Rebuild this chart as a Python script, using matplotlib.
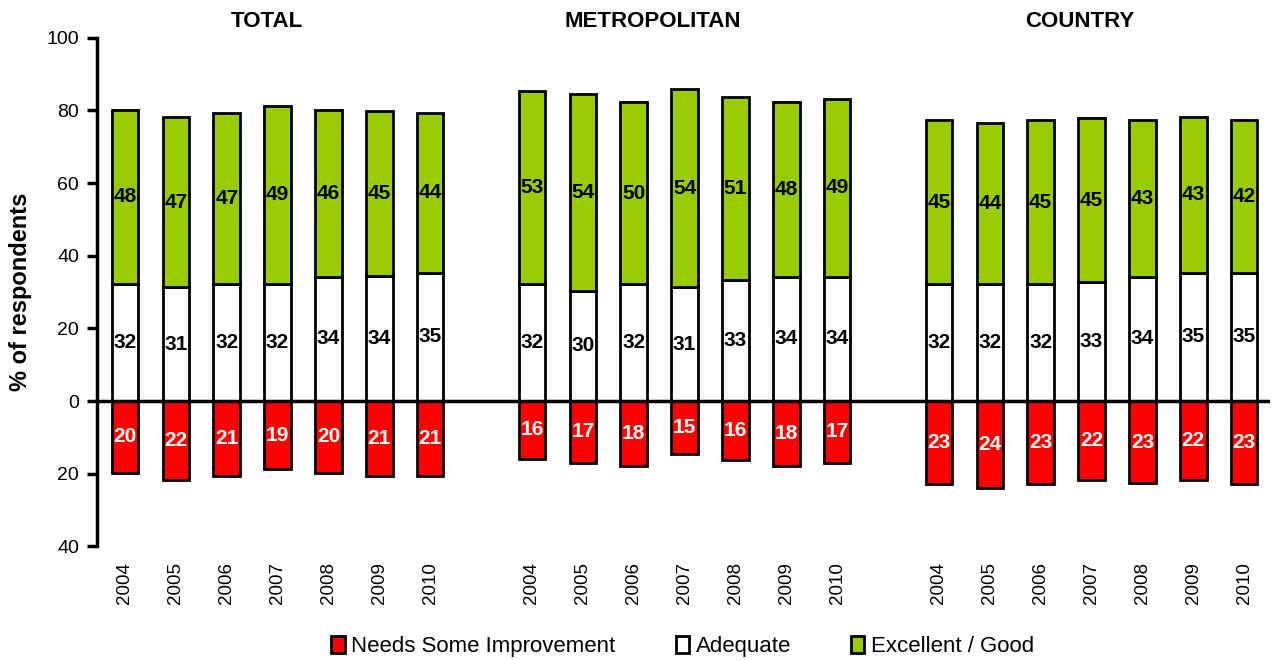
import matplotlib
matplotlib.use("Agg")
import matplotlib.pyplot as plt
from matplotlib.patches import Patch

plt.rcParams["font.family"] = ["Liberation Sans", "DejaVu Sans"]

years = ["2004", "2005", "2006", "2007", "2008", "2009", "2010"]
groups = ["TOTAL", "METROPOLITAN", "COUNTRY"]

# % of respondents per rating, one list per group
needs_total = [19.7, 21.8, 20.7, 18.8, 19.7, 20.7, 20.7]
needs_metro = [15.9, 16.9, 17.8, 14.6, 16.3, 17.8, 16.9]
needs_country = [22.9, 23.8, 22.9, 21.8, 22.6, 21.8, 22.9]

adequate_total = [32.3, 31.3, 32.2, 32.2, 34.2, 34.4, 35.3]
adequate_metro = [32.1, 30.4, 32.1, 31.4, 33.2, 34.2, 34.2]
adequate_country = [32.1, 32.1, 32.1, 32.8, 34.2, 35.3, 35.3]

excellent_total = [47.9, 46.9, 47.1, 49.1, 46.0, 45.4, 44.0]
excellent_metro = [53.3, 54.0, 50.3, 54.4, 50.6, 48.2, 49.0]
excellent_country = [45.2, 44.3, 45.2, 45.0, 43.1, 42.9, 42.0]

needs = [needs_total, needs_metro, needs_country]
adequate = [adequate_total, adequate_metro, adequate_country]
excellent = [excellent_total, excellent_metro, excellent_country]

RED = "#FF0000"
GREEN = "#99CC00"
bar_w = 0.52

fig = plt.figure(figsize=(12.76, 6.6), dpi=100)
ax = fig.add_axes([0.076, 0.172, 0.919, 0.771])

xticks, xlabels = [], []
for g in range(3):
    xs = [g * 8 + i for i in range(len(years))]
    neg = [-v for v in needs[g]]
    ax.bar(xs, neg, width=bar_w, color=RED, edgecolor="black", linewidth=2, zorder=2)
    ax.bar(xs, adequate[g], width=bar_w, color="white", edgecolor="black", linewidth=2, zorder=2)
    ax.bar(xs, excellent[g], width=bar_w, bottom=adequate[g], color=GREEN,
           edgecolor="black", linewidth=2, zorder=2)
    for x, n, a, e in zip(xs, needs[g], adequate[g], excellent[g]):
        ax.text(x, -n / 2, f"{round(n)}", ha="center", va="center", color="white",
                fontsize=15, fontweight="bold", zorder=3)
        ax.text(x, a / 2, f"{round(a)}", ha="center", va="center", color="black",
                fontsize=15, fontweight="bold", zorder=3)
        ax.text(x, a + e / 2, f"{round(e)}", ha="center", va="center", color="black",
                fontsize=15, fontweight="bold", zorder=3)
    xticks += xs
    xlabels += years

title_x = [2.78, 10.37, 18.76]
for g, name in enumerate(groups):
    ax.text(title_x[g], 104.4, name, ha="center", va="center", fontsize=16,
            fontweight="bold", clip_on=False)

ax.set_xlim(-0.55, 22.5)
ax.set_ylim(-40, 100)
ax.axhline(0, color="black", linewidth=2.5, zorder=4)

ax.set_yticks([-40, -20, 0, 20, 40, 60, 80, 100])
ax.set_yticklabels(["40", "20", "0", "20", "40", "60", "80", "100"], fontsize=14)
ax.tick_params(axis="y", direction="out", length=7, width=2.5, pad=6)
ax.set_xticks(xticks)
ax.set_xticklabels(xlabels, rotation=90, fontsize=13.5)
ax.tick_params(axis="x", length=0, pad=11)

for side in ["top", "right", "bottom"]:
    ax.spines[side].set_visible(False)
ax.spines["left"].set_linewidth(2.5)

ax.set_ylabel("% of respondents", fontsize=17, fontweight="bold", labelpad=10)

handles = [Patch(facecolor=RED, edgecolor="black", linewidth=2),
           Patch(facecolor="white", edgecolor="black", linewidth=2),
           Patch(facecolor=GREEN, edgecolor="black", linewidth=2)]
fig.legend(handles, ["Needs Some Improvement", "Adequate", "Excellent / Good"],
           loc="center", bbox_to_anchor=(0.535, 0.021), ncol=3, frameon=False,
           handlelength=0.6, handleheight=0.8, handletextpad=0.3, columnspacing=2.7,
           fontsize=16)

fig.savefig("out.png", dpi=100)
